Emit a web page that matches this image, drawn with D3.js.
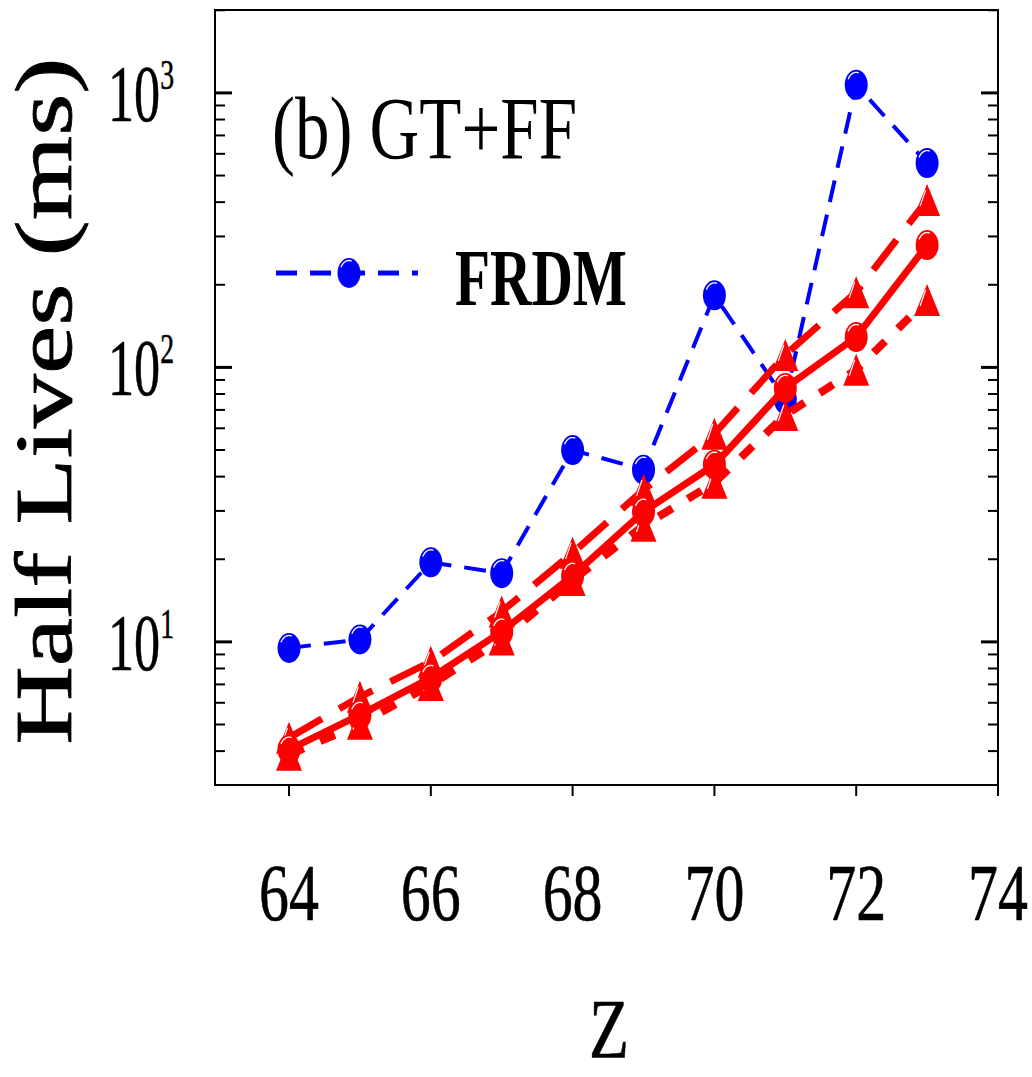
<!DOCTYPE html>
<html>
<head>
<meta charset="utf-8">
<script src="https://cdn.jsdelivr.net/npm/d3@7"></script>
<style>
  html, body { margin: 0; padding: 0; background: #fff; }
  svg { display: block; }
  text { font-family: "Liberation Serif", "Times New Roman", serif; fill: #000; }
</style>
</head>
<body>
<svg id="chart" width="1032" height="1077"></svg>
<script>
// ---- data ----
const Z = [64, 65, 66, 67, 68, 69, 70, 71, 72, 73];
const frdm = [9.5, 10.2, 19.5, 17.8, 50, 42.4, 183, 76.5, 1070, 555];
const calcSolid = [4.05, 5.42, 7.39, 10.9, 17.4, 29.8, 44.2, 84.2, 129, 279];
const calcUpper = [4.47, 6.31, 8.46, 12.9, 21.1, 35.8, 57.3, 111, 188, 407];
const calcLower = [3.88, 5.03, 6.97, 10.2, 16.8, 26.5, 38.0, 67.1, 98, 176];
const xTicks = [64, 66, 68, 70, 72, 74];
const yMajor = [10, 100, 1000];
const yMajorExp = ["1", "2", "3"];
const panelLabel = "(b) GT+FF";
const legendLabel = "FRDM";
const yTitle = "Half Lives (ms)";
const xTitle = "Z";

// ---- layout ----
const L = 215, R = 998, T = 10, B = 785;
const svg = d3.select("#chart");
const x = d3.scaleLinear().domain([62.956, 74]).range([L, R]);
const y = d3.scaleLog().domain([3.01, 2005]).range([B, T]);

// minor ticks
const yMinor = [];
[1, 10, 100, 1000].forEach(d => { for (let k = 2; k <= 9; k++) { const v = d * k; if (v > 3.01 && v < 2005) yMinor.push(v); } });

// frame
svg.append("rect").attr("x", L).attr("y", T).attr("width", R - L).attr("height", B - T)
  .attr("fill", "none").attr("stroke", "#000").attr("stroke-width", 2);

// y ticks inward on left and right
const tickG = svg.append("g").attr("stroke", "#000");
yMajor.forEach(v => {
  tickG.append("line").attr("x1", L).attr("x2", L + 17).attr("y1", y(v)).attr("y2", y(v)).attr("stroke-width", 3);
  tickG.append("line").attr("x1", R).attr("x2", R - 17).attr("y1", y(v)).attr("y2", y(v)).attr("stroke-width", 3);
});
yMinor.forEach(v => {
  tickG.append("line").attr("x1", L).attr("x2", L + 10).attr("y1", y(v)).attr("y2", y(v)).attr("stroke-width", 2);
  tickG.append("line").attr("x1", R).attr("x2", R - 10).attr("y1", y(v)).attr("y2", y(v)).attr("stroke-width", 2);
});
// x ticks outward at bottom
xTicks.forEach(v => {
  tickG.append("line").attr("x1", x(v)).attr("x2", x(v)).attr("y1", B).attr("y2", B + 11).attr("stroke-width", 2);
});

// x tick labels
xTicks.forEach(v => {
  svg.append("text").attr("transform", `translate(${x(v)},920) scale(0.74,1)`)
    .attr("text-anchor", "middle").attr("font-size", 81).attr("stroke", "#000").attr("stroke-width", 0.6).text(v);
});

// y tick labels
yMajor.forEach((v, i) => {
  const t = svg.append("text").attr("transform", `translate(108,${y(v) + 28}) scale(0.645,1)`)
    .attr("font-size", 81).attr("stroke", "#000").attr("stroke-width", 0.6);
  t.append("tspan").text("10");
  t.append("tspan").attr("font-size", 43).attr("dy", -32).text(yMajorExp[i]);
});

// axis titles
svg.append("text").attr("transform", "translate(71,401) rotate(-90)")
  .attr("text-anchor", "middle").attr("font-size", 80)
  .attr("stroke", "#000").attr("stroke-width", 0.8)
  .attr("textLength", 687).attr("lengthAdjust", "spacingAndGlyphs").text(yTitle);
svg.append("text").attr("transform", "translate(609,1058) scale(0.78,1)")
  .attr("text-anchor", "middle").attr("font-size", 84).attr("stroke", "#000").attr("stroke-width", 0.6).text(xTitle);

// panel label
svg.append("text").attr("x", 272).attr("y", 158).attr("font-size", 88)
  .attr("textLength", 305).attr("lengthAdjust", "spacingAndGlyphs").text(panelLabel);

// ---- markers ----
function circleMarker(g, cx, cy, color) {
  g.append("ellipse").attr("cx", cx).attr("cy", cy).attr("rx", 11.5).attr("ry", 15).attr("fill", color);
  const a0 = 1.15 * Math.PI, a1 = 1.6 * Math.PI, rx = 9, ry = 12.5;
  const p = d3.path();
  p.moveTo(cx + rx * Math.cos(a0), cy + ry * Math.sin(a0));
  for (let a = a0; a <= a1; a += 0.05) p.lineTo(cx + rx * Math.cos(a), cy + ry * Math.sin(a));
  g.append("path").attr("d", p.toString()).attr("fill", "none").attr("stroke", "#fff").attr("stroke-width", 1.3);
}
function triMarker(g, cx, cy, color) {
  const w = 13, h = 16;
  g.append("path").attr("d", `M${cx},${cy - h}L${cx + w},${cy + h}L${cx - w},${cy + h}Z`).attr("fill", color);
  g.append("path").attr("d", `M${cx - 1.5},${cy - h + 6}L${cx - 7},${cy + 6}`)
    .attr("stroke", "#fff").attr("stroke-width", 1.2).attr("fill", "none");
}

const line = d3.line().x(d => x(d[0])).y(d => y(d[1]));

function drawSeries(vals, color, width, dash, marker) {
  const g = svg.append("g");
  const pts = Z.map((z, i) => [z, vals[i]]);
  g.append("path").datum(pts).attr("d", line).attr("fill", "none")
    .attr("stroke", color).attr("stroke-width", width)
    .attr("stroke-dasharray", dash).attr("stroke-linejoin", "miter");
  pts.forEach(p => marker(g, x(p[0]), y(p[1]), color));
}

const blue = "#0000ff", red = "#ff0000";
drawSeries(frdm, blue, 4, "22,13", circleMarker);
drawSeries(calcLower, red, 8, "16,18", triMarker);
drawSeries(calcUpper, red, 7, "38,20", triMarker);
drawSeries(calcSolid, red, 7, null, circleMarker);

// legend
const lg = svg.append("g");
lg.append("line").attr("x1", 276).attr("x2", 418).attr("y1", 273).attr("y2", 273)
  .attr("stroke", blue).attr("stroke-width", 5).attr("stroke-dasharray", "21,13");
circleMarker(lg, 349, 273, blue);
svg.append("text").attr("x", 455).attr("y", 305).attr("font-size", 80).attr("font-weight", "bold")
  .attr("textLength", 172).attr("lengthAdjust", "spacingAndGlyphs").text(legendLabel);
</script>
</body>
</html>
